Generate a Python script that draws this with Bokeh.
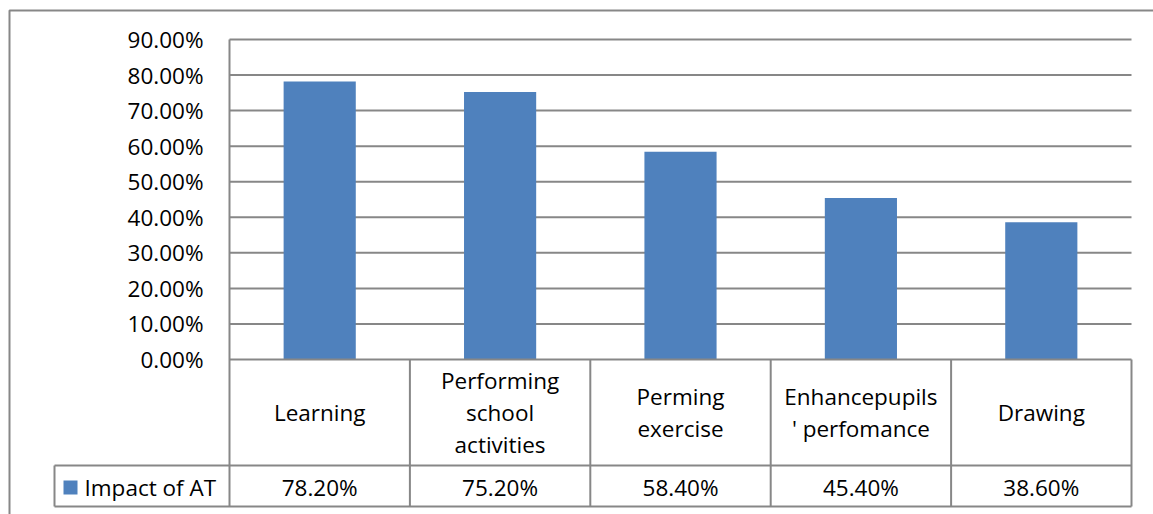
from bokeh.plotting import figure
from bokeh.models import Range1d, ColumnDataSource
from bokeh.core.properties import value
from bokeh.embed import file_html
from bokeh.resources import INLINE

# ---- data ----
categories = ["Learning", "Performing\nschool\nactivities", "Perming\nexercise",
              "Enhancepupils\n' perfomance", "Drawing"]
impact = [0.782, 0.752, 0.584, 0.454, 0.386]
series_name = "Impact of AT"
y_ticks = [0.0, 0.1, 0.2, 0.3, 0.4, 0.5, 0.6, 0.7, 0.8, 0.9]
y_tick_labels = ["0.00%", "10.00%", "20.00%", "30.00%", "40.00%", "50.00%",
                 "60.00%", "70.00%", "80.00%", "90.00%"]

# ---- layout constants (page pixels) ----
W, H = 1153, 514
PAGE_OFF = 0
PLOT_L, PLOT_R = 229, 1131     # plot area x (page)
PLOT_T, PLOT_B = 39, 359       # plot area y (page)
YMAX = 0.9
n = len(categories)
PX_X = (PLOT_R - PLOT_L) / n
PX_Y = (PLOT_B - PLOT_T) / YMAX

def fx(X):
    return (X - PLOT_L) / PX_X

def fy(Y):
    return (PLOT_B - Y) / PX_Y

FONT = value("Open Sans")
FS = "22.5px"
GRID_C = "#878787"
BAR_C = "#4F81BD"

p = figure(width=W, height=H, output_backend="svg", toolbar_location=None,
           x_range=Range1d(fx(PAGE_OFF), fx(PAGE_OFF + W)),
           y_range=Range1d(fy(PAGE_OFF + H), fy(PAGE_OFF)),
           x_axis_location=None, y_axis_location=None,
           min_border=0, tools="")
p.outline_line_color = None
p.background_fill_color = "white"
p.border_fill_color = "white"
for g in p.grid:
    g.visible = False

xs = [i + 0.5 for i in range(n)]

# gridlines
gy = [t for t in y_ticks if t > 0]
p.segment(x0=[0] * len(gy), x1=[n] * len(gy), y0=gy, y1=gy,
          line_color=GRID_C, line_width=2)

# bars
src = ColumnDataSource(dict(x=xs, top=impact))
p.vbar(x="x", top="top", bottom=0, width=0.4, source=src,
       fill_color=BAR_C, line_color=None)

# y tick labels
p.text(x=[0] * len(y_ticks), y=y_ticks, text=y_tick_labels, x_offset=-26,
       text_align="right", text_baseline="middle", text_font=FONT,
       text_font_size=FS, text_color="#000000")

# data table lines
row_y = fy(465)
bot_y = fy(506)
leg_l = fx(54)
hx0 = [0, leg_l, leg_l]
hx1 = [n, n, n]
hy = [0, row_y, bot_y]
p.segment(x0=hx0, x1=hx1, y0=hy, y1=hy, line_color=GRID_C, line_width=2)
vx = [0] + list(range(1, n + 1)) + [leg_l]
vy0 = [YMAX] + [0] * n + [row_y]
p.segment(x0=vx, x1=vx, y0=vy0, y1=[bot_y] * len(vx), line_color=GRID_C, line_width=2)

# category labels
p.text(x=xs, y=[fy(412)] * n, text=categories, text_align="center",
       text_baseline="middle", text_font=FONT, text_font_size=FS,
       text_line_height=1.03, text_color="#000000")

# value labels
val_labels = [f"{v * 100:.2f}%" for v in impact]
p.text(x=xs, y=[fy(487)] * n, text=val_labels, text_align="center",
       text_baseline="middle", text_font=FONT, text_font_size=FS, text_color="#000000")

# legend key
p.rect(x=[fx(70)], y=[fy(487)], width=14, height=14, width_units="screen",
       height_units="screen", fill_color=BAR_C, line_color=None)
p.text(x=[fx(84)], y=[fy(487)], text=[series_name], text_align="left",
       text_baseline="middle", text_font=FONT, text_font_size=FS, text_color="#000000")

# outer chart border
p.quad(left=[fx(9)], right=[fx(1170)], top=[fy(10)], bottom=[fy(530)],
       fill_color=None, line_color=GRID_C, line_width=2)

open("out.html", "w").write(file_html(p, INLINE))
